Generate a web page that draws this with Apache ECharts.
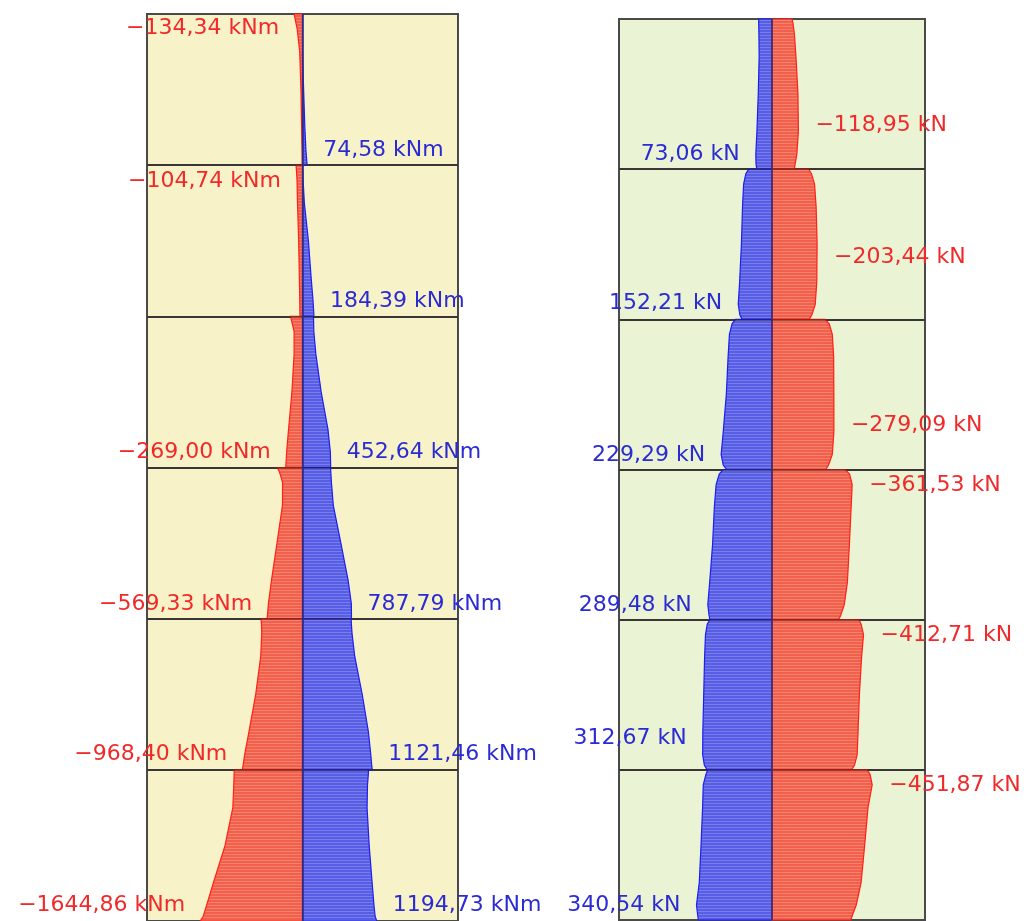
<!DOCTYPE html>
<html>
<head>
<meta charset="utf-8">
<script src="https://cdn.jsdelivr.net/npm/echarts@6/dist/echarts.min.js"></script>
<style>
  html, body { margin: 0; padding: 0; background: #fff; }
  #chart { width: 1027px; height: 921px; }
</style>
</head>
<body>
<div id="chart"></div>
<script>
// storeys, top one first; heights in m
const storyH = 3;
const storyTop = [18, 15, 12, 9, 6, 3];
// sample points inside a storey, as fraction of height from its top
const sampleF = [0, 0.03, 0.1, 0.25, 0.5, 0.75, 0.9, 0.97, 1];

// bending moment envelope, kNm
const momentNeg = [
  [-134.34, -120, -85, -45, -25, -14, -8, -6, -5],
  [-104.74, -98, -88, -80, -62, -50, -44, -42, -40],
  [-193, -175, -135, -135, -170, -225, -255, -265, -269.00],
  [-407, -370, -320, -322, -410, -500, -548, -562, -569.33],
  [-669, -660, -655, -672, -752, -862, -930, -955, -968.40],
  [-1098, -1100, -1105, -1120, -1245, -1435, -1545, -1597, -1644.86]
];
const momentPos = [
  [0, 0, 0, 0, 18, 38, 55, 68, 74.58],
  [0, 3, 10, 30, 95, 140, 170, 180, 184.39],
  [177, 178, 182, 215, 300, 410, 448, 452, 452.64],
  [452, 455, 465, 495, 617, 735, 785, 787, 787.79],
  [783, 785, 797, 840, 960, 1060, 1098, 1113, 1121.46],
  [1061, 1058, 1045, 1038, 1072, 1120, 1150, 1168, 1194.73]
];

// shear force envelope, kN
const shearPos = [
  [60, 60, 59, 58, 62, 68, 73.06, 72, 68],
  [105, 118, 128, 133, 138, 146, 152.21, 145, 135],
  [165, 180, 192, 198, 206, 220, 229.29, 220, 205],
  [220, 238, 252, 260, 268, 281, 289.48, 284, 280],
  [280, 292, 300, 304, 308, 312, 312.67, 305, 292],
  [290, 298, 310, 313, 320, 328, 340.54, 335, 332]
];
const shearNeg = [
  [-90, -95, -101, -108, -117, -118.95, -112, -104, -100],
  [-165, -178, -192, -199, -203.44, -202, -195, -180, -168],
  [-240, -258, -272, -278, -279, -279.09, -272, -255, -243],
  [-330, -350, -361.53, -357, -349, -340, -326, -310, -300],
  [-392, -402, -412.71, -404, -394, -388, -384, -372, -358],
  [-430, -442, -451.87, -433, -418, -402, -380, -362, -356]
];

// extreme value labels: [value, height]
const momentNegLabels = [[-134.34, 17.72], [-104.74, 14.68], [-269.00, 9.30], [-569.33, 6.29], [-968.40, 3.31], [-1644.86, 0.32]];
const momentPosLabels = [[74.58, 15.29], [184.39, 12.30], [452.64, 9.30], [787.79, 6.29], [1121.46, 3.31], [1194.73, 0.32]];
const shearPosLabels = [[73.06, 15.30], [152.21, 12.33], [229.29, 9.29], [289.48, 6.29], [312.67, 3.64], [340.54, 0.30]];
const shearNegLabels = [[-118.95, 15.88], [-203.44, 13.23], [-279.09, 9.89], [-361.53, 8.69], [-412.71, 5.69], [-451.87, 2.70]];

const floors = [3, 6, 9, 12, 15];

const RED = '#f2604b', RED_EDGE = '#ff2016', RED_TXT = '#f02a2a';
const BLUE = '#585de6', BLUE_EDGE = '#1c1ff0', BLUE_TXT = '#2b2bd4';

function stripes(base, light) {
  const c = document.createElement('canvas');
  c.width = 4; c.height = 3;
  const g = c.getContext('2d');
  g.fillStyle = base; g.fillRect(0, 0, 4, 3);
  g.fillStyle = light; g.fillRect(0, 2, 4, 1);
  return { type: 'pattern', image: c, repeat: 'repeat' };
}
const redFill = stripes(RED, '#f5826f');
const blueFill = stripes(BLUE, '#787dec');

function fmt(v, unit) {
  const s = Math.abs(v).toFixed(2).replace('.', ',');
  return (v < 0 ? '\u2212' : '') + s + ' ' + unit;
}

function envelope(rows, fill, edge, gi) {
  return {
    type: 'custom',
    xAxisIndex: gi, yAxisIndex: gi,
    z: 2,
    data: storyTop.map(z => [0, z]),
    renderItem: function (params, api) {
      const i = params.dataIndex, top = storyTop[i];
      const pts = [api.coord([0, top])];
      rows[i].forEach((v, k) => pts.push(api.coord([v, top - sampleF[k] * storyH])));
      pts.push(api.coord([0, top - storyH]));
      return {
        type: 'polygon',
        shape: { points: pts },
        style: { fill: fill, stroke: edge, lineWidth: 1.2 }
      };
    }
  };
}

function labels(list, unit, color, pos, dist, gi) {
  return {
    type: 'scatter',
    xAxisIndex: gi, yAxisIndex: gi,
    z: 6,
    symbolSize: 0,
    silent: true,
    itemStyle: { opacity: 1 },
    data: list,
    label: {
      show: true,
      position: pos,
      distance: dist,
      color: color,
      opacity: 1,
      fontFamily: 'DejaVu Sans',
      fontSize: 22,
      formatter: p => fmt(p.value[0], unit)
    }
  };
}

function lines(gi) {
  return {
    type: 'line',
    xAxisIndex: gi, yAxisIndex: gi,
    z: 4,
    data: [],
    markLine: {
      silent: true,
      symbol: 'none',
      label: { show: false },
      animation: false,
      data: floors.map(f => ({ yAxis: f, lineStyle: { color: 'rgba(40,30,30,0.45)', width: 2, type: 'solid' } }))
        .concat([{ xAxis: 0, lineStyle: { color: '#322e7a', width: 1.6, type: 'solid' } }])
    }
  };
}

const yAxisBase = {
  type: 'value', min: 0, max: 18, interval: 3,
  axisLine: { show: false }, axisTick: { show: false }, axisLabel: { show: false },
  splitLine: { show: true, lineStyle: { color: '#4a4a4a', width: 2 } }
};

const chart = echarts.init(document.getElementById('chart'));
chart.setOption({
  animation: false,
  backgroundColor: '#ffffff',
  grid: [
    { left: 147, top: 14, width: 311, height: 910, show: true, backgroundColor: '#f8f2c8', borderColor: '#4a4a4a', borderWidth: 2 },
    { left: 619, top: 19, width: 306, height: 901, show: true, backgroundColor: '#eaf3d3', borderColor: '#4a4a4a', borderWidth: 2 }
  ],
  xAxis: [
    { gridIndex: 0, type: 'value', min: -2500, max: 2500, show: false, splitLine: { show: false } },
    { gridIndex: 1, type: 'value', min: -690, max: 690, inverse: true, show: false, splitLine: { show: false } }
  ],
  yAxis: [
    Object.assign({ gridIndex: 0 }, yAxisBase),
    Object.assign({ gridIndex: 1 }, yAxisBase)
  ],
  series: [
    envelope(momentNeg, redFill, RED_EDGE, 0),
    envelope(momentPos, blueFill, BLUE_EDGE, 0),
    envelope(shearPos, blueFill, BLUE_EDGE, 1),
    envelope(shearNeg, redFill, RED_EDGE, 1),
    lines(0),
    lines(1),
    labels(momentNegLabels, 'kNm', RED_TXT, 'left', 15, 0),
    labels(momentPosLabels, 'kNm', BLUE_TXT, 'right', 16, 0),
    labels(shearPosLabels, 'kN', BLUE_TXT, 'left', 16, 1),
    labels(shearNegLabels, 'kN', RED_TXT, 'right', 17, 1)
  ]
});
</script>
</body>
</html>
